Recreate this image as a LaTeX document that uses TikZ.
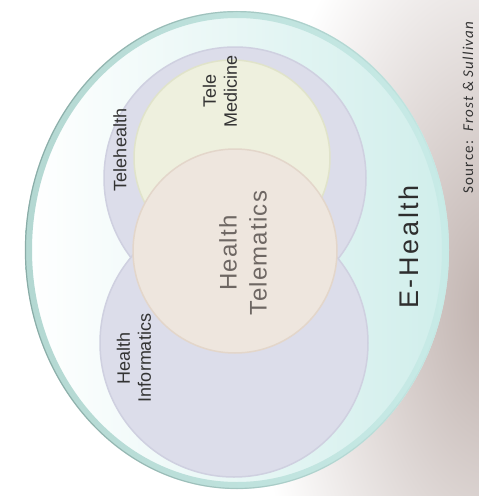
\documentclass[tikz,border=0pt]{standalone}
\usepackage{fontspec}
\usetikzlibrary{fadings}
\setmainfont{Liberation Sans}
\newfontfamily\srcfont{Carlito}
\definecolor{shadowc}{HTML}{BFB1AD}
\definecolor{ecyan}{HTML}{D0EEEB}
\definecolor{rimc}{HTML}{B4D8D2}
\definecolor{rimlight}{HTML}{C8EBE7}
\definecolor{rimdark}{HTML}{8AACA7}
\definecolor{lav}{HTML}{DCDDEA}
\definecolor{lavedge}{HTML}{CFD0E0}
\definecolor{tmfill}{HTML}{EEF0DE}
\definecolor{tmedge}{HTML}{E0E3CA}
\definecolor{htfill}{HTML}{EEE6DE}
\definecolor{htedge}{HTML}{E3D6CA}
\definecolor{labc}{HTML}{333333}
\definecolor{htlab}{HTML}{6E6763}
\tikzset{
  lbl/.style={rotate=90, align=center, text=labc, inner sep=0pt,
    font=\fontsize{18}{21}\selectfont},
  bigsetlbl/.style={rotate=90, align=center, text=htlab, inner sep=0pt,
    font=\fontsize{24}{30}\selectfont\addfontfeature{LetterSpace=5}},
  elbl/.style={rotate=90, text=labc!90!black, inner sep=0pt,
    font=\fontsize{27}{30}\selectfont\addfontfeature{LetterSpace=10}},
  srclbl/.style={rotate=90, text=labc, inner sep=0pt,
    font=\srcfont\fontsize{15}{16}\selectfont\addfontfeature{LetterSpace=8}}
}
\begin{document}
\begin{tikzpicture}[x=1pt,y=-1pt]
\useasboundingbox (0,0) rectangle (479,496);
\begin{scope}
\clip (0,0) rectangle (479,496);
\fill[white] (0,0) rectangle (479,496);
% background shadow on the right
\shade[inner color=shadowc, outer color=white] (492,310) ellipse [x radius=240, y radius=450];
% E-Health outer disc
\shade[left color=white, middle color=white!60!ecyan, right color=ecyan] (237,250) ellipse [x radius=212, y radius=239];
% rim: ring shaded from teal (left) to light cyan (right)
\shade[even odd rule, left color=rimc, right color=rimlight]
  (237,250) ellipse [x radius=212, y radius=239]
  (237,250) ellipse [x radius=205, y radius=232];
\draw[rimdark, line width=1.2, path fading=east] (237,250) ellipse [x radius=211.5, y radius=238.5];
% Telehealth and Health Informatics
\fill[lav, draw=lavedge, line width=1.5] (235,178) circle [radius=131];
\fill[lav, draw=lavedge, line width=1.5] (234,343) circle [radius=134];
% Tele Medicine
\fill[tmfill, draw=tmedge, line width=1.5] (232,158) circle [radius=98];
% Health Telematics
\fill[htfill, draw=htedge, line width=1.5] (235,251) circle [radius=102];
\end{scope}
% labels
\node[lbl] (telehealth) at (120,150) {Telehealth};
\node[lbl] (telemed) at (220,91) {Tele\\Medicine};
\node[lbl] (informatics) at (134,358) {Health\\Informatics};
\node[bigsetlbl] (telematics) at (243,253) {Health\\Telematics};
\node[elbl] (ehealth) at (409,247) {E-Health};
\node[srclbl] (source) at (468,107) {Source:\ \ \textit{Frost \& Sullivan}};
\end{tikzpicture}
\end{document}
